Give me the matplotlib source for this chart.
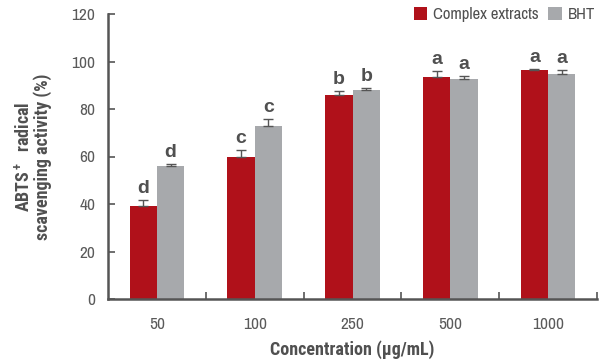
import matplotlib
matplotlib.use("Agg")
import matplotlib.pyplot as plt
import numpy as np

categories = ["50", "100", "250", "500", "1000"]
complex_vals = [39.2, 60.0, 86.0, 93.5, 96.5]
complex_err = [2.5, 2.8, 1.5, 2.5, 0.5]
bht_vals = [56.0, 73.0, 87.8, 92.5, 94.8]
bht_err = [0.8, 2.8, 1.2, 1.5, 1.5]
complex_letters = ["d", "c", "b", "a", "a"]
bht_letters = ["d", "c", "b", "a", "a"]

plt.rcParams['font.family'] = ['Archivo Narrow', 'DejaVu Sans']
plt.rcParams['mathtext.fontset'] = 'custom'
plt.rcParams['mathtext.rm'] = 'Roboto Condensed:bold'
plt.rcParams['mathtext.default'] = 'rm'

LAB = ['Roboto Condensed', 'DejaVu Sans']

RED = "#B0111A"
GREY = "#A7A9AC"
TXT = "#505050"
TICK = "#5a5a5a"
AX = "#555555"

fig = plt.figure(figsize=(6.05, 3.64), dpi=100)
ax = fig.add_axes([108/605, 1-299/364, (597-108)/605, (299-14)/364])

x = np.arange(len(categories))
w = 0.28
ax.bar(x - w/2, complex_vals, w, color=RED, label="Complex extracts", zorder=2)
ax.bar(x + w/2, bht_vals, w, color=GREY, label="BHT", zorder=2)
ekw = dict(fmt='none', ecolor=AX, elinewidth=1.0, capsize=3.5, capthick=1.0, zorder=3)
ax.errorbar(x - w/2, complex_vals, yerr=[np.zeros(5), complex_err], **ekw)
ax.errorbar(x + w/2, bht_vals, yerr=[np.zeros(5), bht_err], **ekw)

for i in range(len(categories)):
    ax.text(x[i] - w/2, complex_vals[i] + complex_err[i] + 1.2, complex_letters[i],
            ha='center', va='bottom', fontsize=14, fontweight='bold', color=TXT,
            family=['Liberation Sans', 'DejaVu Sans'])
    ax.text(x[i] + w/2, bht_vals[i] + bht_err[i] + 1.2, bht_letters[i],
            ha='center', va='bottom', fontsize=14, fontweight='bold', color=TXT,
            family=['Liberation Sans', 'DejaVu Sans'])

ax.set_xlim(-0.5, 4.5)
ax.set_ylim(0, 120)
ax.set_yticks(np.arange(0, 121, 20))
ax.set_xticks(x)
ax.set_xticklabels(categories)
ax.set_xticks(np.arange(0.5, 5, 1.0), minor=True)
ax.tick_params(axis='x', which='major', length=0, pad=13, labelsize=12.5, labelcolor=TICK)
ax.tick_params(axis='x', which='minor', direction='in', length=5, width=1.2, color=AX)
ax.tick_params(axis='y', direction='in', length=5, width=1.2, color=AX, labelsize=12.5,
               labelcolor=TICK, pad=9)

for s in ['top', 'right']:
    ax.spines[s].set_visible(False)
for s in ['left', 'bottom']:
    ax.spines[s].set_color(AX)
    ax.spines[s].set_linewidth(1.8)

ax.set_xlabel("Concentration (μg/mL)", fontsize=13, fontweight='bold', color=TXT, labelpad=6,
              family=LAB)
ax.set_ylabel("ABTS$^+$  radical\nscavenging activity (%)", fontsize=13, fontweight='bold',
              color=TXT, labelpad=14, linespacing=1.0, family=LAB)

leg = fig.legend(loc='upper right', bbox_to_anchor=(1.008, 1.022), ncol=2, frameon=False,
                 fontsize=12, handlelength=0.8, handleheight=0.8, handletextpad=0.35,
                 columnspacing=0.6, labelcolor=TXT)

fig.savefig("out.png", dpi=100)
